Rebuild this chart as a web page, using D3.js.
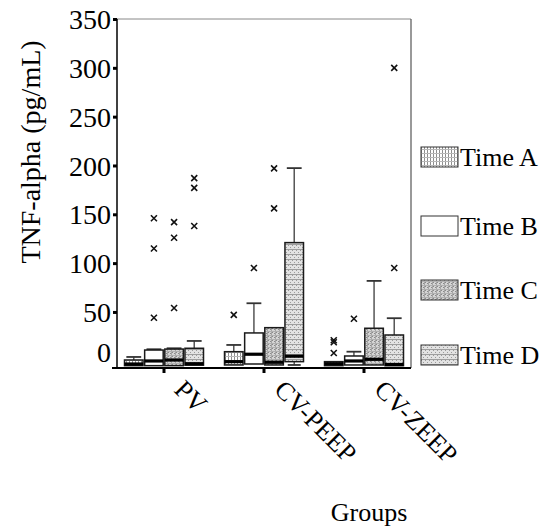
<!DOCTYPE html>
<html>
<head>
<meta charset="utf-8">
<script src="https://cdn.jsdelivr.net/npm/d3@7"></script>
<style>
  body { margin: 0; background: #fff; }
  svg { display: block; }
  text { font-family: "Liberation Serif", "Times New Roman", serif; fill: #000; }
</style>
</head>
<body>
<div id="chart"></div>
<script>
const groups = ["PV", "CV-PEEP", "CV-ZEEP"];
const times = ["Time A", "Time B", "Time C", "Time D"];

// one value per box, order: PV A..D, CV-PEEP A..D, CV-ZEEP A..D
const whiskerHigh = [3.9, 11.8, 12.8, 20.3, 16.2, 58.9, 33.9, 197.3, -0.9, 9.3, 81.8, 43.6];
const q3 =          [0.8, 11.0, 12.0, 12.8, 9.3, 28.5, 33.9, 121.0, -0.9, 4.9, 33.3, 26.4];
const median =      [-3.3, -0.2, 0.8, -3.0, -0.9, 6.7, -1.5, 4.7, -3.0, -0.2, 1.5, -3.8];
const q1 =          [-5.0, -5.0, -5.0, -4.5, -4.3, -3.3, -4.3, -0.9, -5.0, -4.3, -4.3, -5.0];
const whiskerLow =  [-5.0, -5.0, -5.0, -4.5, -4.3, -3.3, -4.3, -4.3, -5.0, -4.3, -4.3, -5.0];

const outliers = [
  ["PV", "Time B", 146], ["PV", "Time B", 115], ["PV", "Time B", 44],
  ["PV", "Time C", 142], ["PV", "Time C", 126], ["PV", "Time C", 54],
  ["PV", "Time D", 187], ["PV", "Time D", 177], ["PV", "Time D", 138],
  ["CV-PEEP", "Time A", 47],
  ["CV-PEEP", "Time B", 95],
  ["CV-PEEP", "Time C", 197], ["CV-PEEP", "Time C", 156],
  ["CV-ZEEP", "Time A", 21], ["CV-ZEEP", "Time A", 19], ["CV-ZEEP", "Time A", 8],
  ["CV-ZEEP", "Time B", 43],
  ["CV-ZEEP", "Time D", 95], ["CV-ZEEP", "Time D", 300]
];

const yTicks = [0, 50, 100, 150, 200, 250, 300, 350];

const width = 550, height = 529;
const plot = { left: 117, right: 411, top: 19, bottom: 368 };

const svg = d3.select("#chart").append("svg")
    .attr("width", width)
    .attr("height", height);

// fill patterns
const defs = svg.append("defs");

function pattern(id, w, h, bg) {
  const p = defs.append("pattern").attr("id", id)
      .attr("patternUnits", "userSpaceOnUse").attr("width", w).attr("height", h);
  p.append("rect").attr("width", w).attr("height", h).attr("fill", bg);
  return p;
}
function px(p, x0, y0, w, h, c) {
  p.append("rect").attr("x", x0).attr("y", y0).attr("width", w).attr("height", h).attr("fill", c);
}

// Time A: fine plaid of thin gray lines
const patA = pattern("patA", 3, 4, "#fff");
px(patA, 0, 0, 1, 4, "#8f8f8f");
px(patA, 0, 0, 3, 1, "#b8b8b8");

// Time C: gray stipple with grid lines
const patC = pattern("patC", 4, 4, "#d4d4d4");
[[0, 0], [2, 1], [1, 3], [3, 2]].forEach(p => px(patC, p[0], p[1], 1, 1, "#8a8a8a"));
px(patC, 3, 0, 1, 4, "#a4a4a4");
px(patC, 0, 3, 4, 1, "#b0b0b0");

// Time D: light stipple with horizontal lines
const patD = pattern("patD", 4, 5, "#e2e2e2");
[[0, 0], [2, 2]].forEach(p => px(patD, p[0], p[1], 1, 1, "#9a9a9a"));
px(patD, 0, 4, 4, 1, "#9e9e9e");

const fills = { "Time A": "url(#patA)", "Time B": "#fff", "Time C": "url(#patC)", "Time D": "url(#patD)" };

// scales
const x = d3.scaleBand().domain(groups).range([114, 414]);
const xIn = d3.scaleBand().domain(times).range([-39.5, 39.5]).paddingInner(0.08);
const y = d3.scaleLinear().domain([-7.4, 350]).range([plot.bottom, plot.top]);

const boxes = groups.flatMap((g, gi) => times.map((t, ti) => {
  const i = gi * 4 + ti;
  return { group: g, time: t, lo: whiskerLow[i], q1: q1[i], med: median[i], q3: q3[i], hi: whiskerHigh[i] };
}));

// frame
svg.append("line").attr("x1", plot.left).attr("x2", plot.right).attr("y1", plot.top).attr("y2", plot.top)
    .attr("stroke", "#888").attr("stroke-width", 1);
svg.append("line").attr("x1", plot.right).attr("x2", plot.right).attr("y1", plot.top).attr("y2", plot.bottom)
    .attr("stroke", "#555").attr("stroke-width", 1.2);

// y axis
const yAxis = svg.append("g")
    .attr("transform", `translate(${plot.left},0)`)
    .call(d3.axisLeft(y).tickValues(yTicks).tickSize(4).tickPadding(2).tickFormat(d3.format("d")));
yAxis.attr("font-family", null);
yAxis.select(".domain").remove();
yAxis.selectAll(".tick line").attr("stroke", "#000").attr("stroke-width", 3);
yAxis.selectAll(".tick").filter(d => d === 0).select("line").remove();
yAxis.selectAll(".tick text")
    .style("font-size", "28px")
    .attr("dy", "0.34em");
yAxis.selectAll(".tick").filter(d => d === 0).select("text").attr("y", -9);
svg.append("line").attr("x1", plot.left).attr("x2", plot.left).attr("y1", plot.top).attr("y2", plot.bottom)
    .attr("stroke", "#000").attr("stroke-width", 1.5);

// x axis
const xAxis = svg.append("g")
    .attr("transform", `translate(0,${plot.bottom})`)
    .call(d3.axisBottom(x).tickSize(5));
xAxis.attr("font-family", null);
xAxis.select(".domain").remove();
xAxis.selectAll(".tick line").attr("stroke", "#000").attr("stroke-width", 3);
xAxis.selectAll(".tick text")
    .style("font-size", "26px")
    .attr("text-anchor", "start")
    .attr("x", 0).attr("y", 0).attr("dy", 0)
    .attr("transform", "translate(9,23) rotate(45)");
svg.append("line").attr("x1", 112).attr("x2", plot.right).attr("y1", plot.bottom).attr("y2", plot.bottom)
    .attr("stroke", "#000").attr("stroke-width", 2);

// boxes
const bw = xIn.bandwidth();
const bx = d => x(d.group) + x.bandwidth() / 2 + xIn(d.time);

const box = svg.append("g").selectAll("g")
    .data(boxes)
    .enter().append("g");

// upper whisker
box.filter(d => d.hi > d.q3).append("line")
    .attr("x1", d => bx(d) + bw / 2).attr("x2", d => bx(d) + bw / 2)
    .attr("y1", d => y(d.q3)).attr("y2", d => y(d.hi))
    .attr("stroke", "#555").attr("stroke-width", 1.5);
box.filter(d => d.hi > d.q3).append("line")
    .attr("x1", d => bx(d) + bw * 0.1).attr("x2", d => bx(d) + bw * 0.9)
    .attr("y1", d => y(d.hi)).attr("y2", d => y(d.hi))
    .attr("stroke", "#333").attr("stroke-width", 1.8);
// lower whisker
box.filter(d => d.lo < d.q1).append("line")
    .attr("x1", d => bx(d) + bw / 2).attr("x2", d => bx(d) + bw / 2)
    .attr("y1", d => y(d.q1)).attr("y2", d => y(d.lo))
    .attr("stroke", "#555").attr("stroke-width", 1.5);
box.filter(d => d.lo < d.q1).append("line")
    .attr("x1", d => bx(d) + bw * 0.15).attr("x2", d => bx(d) + bw * 0.85)
    .attr("y1", d => y(d.lo)).attr("y2", d => y(d.lo))
    .attr("stroke", "#333").attr("stroke-width", 1.8);

box.append("rect")
    .attr("x", d => bx(d))
    .attr("y", d => y(d.q3))
    .attr("width", bw)
    .attr("height", d => Math.max(y(d.q1) - y(d.q3), 1))
    .attr("fill", d => fills[d.time])
    .attr("stroke", "#1a1a1a")
    .attr("stroke-width", 1.5);

box.append("line")
    .attr("x1", d => bx(d)).attr("x2", d => bx(d) + bw)
    .attr("y1", d => y(d.med)).attr("y2", d => y(d.med))
    .attr("stroke", "#000").attr("stroke-width", 3.2);

// outliers
const cross = 3;
svg.append("g").selectAll("path")
    .data(outliers)
    .enter().append("path")
    .attr("d", d => {
      const cx = x(d[0]) + x.bandwidth() / 2 + xIn(d[1]) + bw / 2, cy = y(d[2]);
      return `M${cx - cross},${cy - cross}L${cx + cross},${cy + cross}M${cx - cross},${cy + cross}L${cx + cross},${cy - cross}`;
    })
    .attr("stroke", "#111")
    .attr("stroke-width", 1.6);

// axis titles
svg.append("text")
    .attr("transform", "translate(40,152) rotate(-90)")
    .attr("text-anchor", "middle")
    .style("font-size", "28px")
    .text("TNF-alpha (pg/mL)");

svg.append("text")
    .attr("x", 369).attr("y", 521)
    .attr("text-anchor", "middle")
    .style("font-size", "26px")
    .text("Groups");

// legend
const legendY = [157, 226, 290, 355];
const legend = svg.append("g").selectAll("g")
    .data(times)
    .enter().append("g")
    .attr("transform", (d, i) => `translate(421,${legendY[i]})`);

legend.append("rect")
    .attr("x", 0).attr("y", -10)
    .attr("width", 37).attr("height", 20)
    .attr("fill", d => fills[d])
    .attr("stroke", "#333")
    .attr("stroke-width", 1);

legend.append("text")
    .attr("x", 39).attr("y", 9)
    .style("font-size", "26px")
    .text(d => d);
</script>
</body>
</html>
